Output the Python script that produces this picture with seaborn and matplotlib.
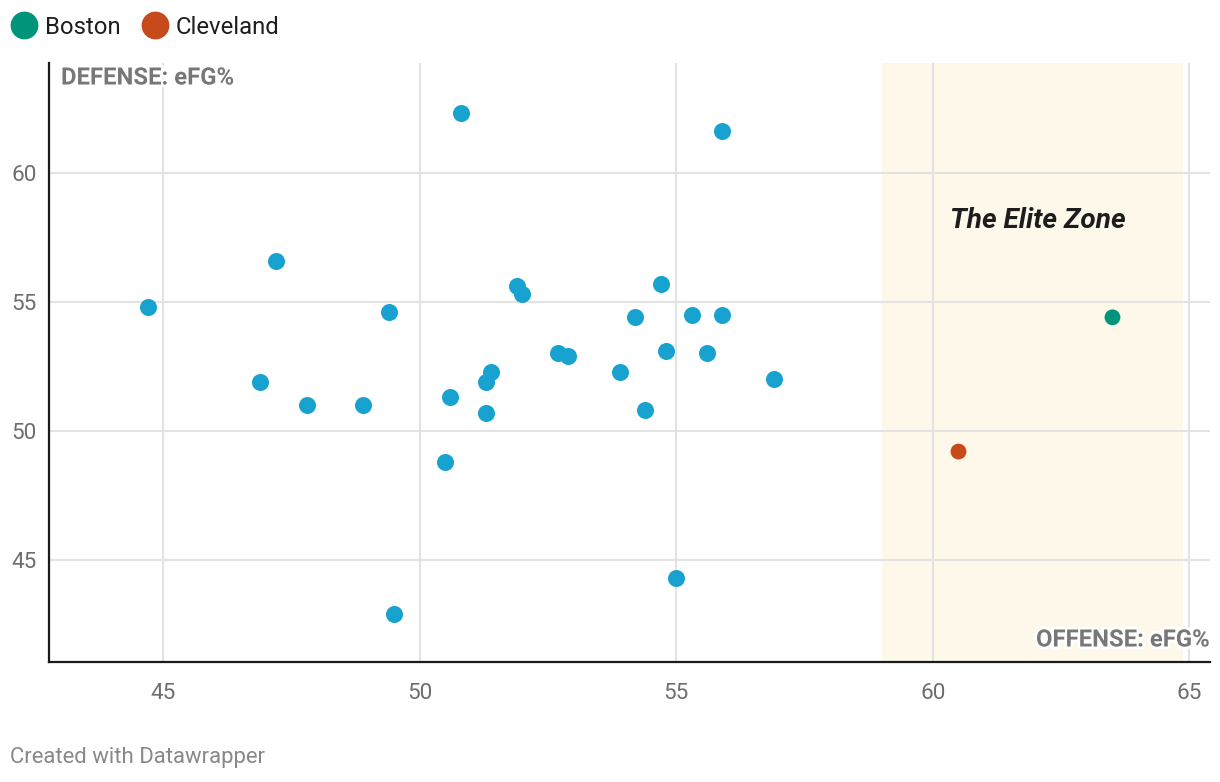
import numpy as np
import pandas as pd
import seaborn as sns
import matplotlib.pyplot as plt
from matplotlib.lines import Line2D
import matplotlib.patheffects as pe

sns.set_theme(style="white")
plt.rcParams['font.family'] = ['Roboto', 'DejaVu Sans']

# other teams: offense eFG% vs defense eFG%
other_off = [44.7, 46.9, 47.2, 47.8, 48.9, 49.4, 49.5, 50.5, 50.6, 50.8,
             51.3, 51.3, 51.4, 51.9, 52.0, 52.7, 52.9, 53.9, 54.2, 54.4,
             54.7, 54.8, 55.0, 55.3, 55.6, 55.9, 55.9, 56.9]
other_def = [54.8, 51.9, 56.6, 51.0, 51.0, 54.6, 42.9, 48.8, 51.3, 62.3,
             51.9, 50.7, 52.3, 55.6, 55.3, 53.0, 52.9, 52.3, 54.4, 50.8,
             55.7, 53.1, 44.3, 54.5, 53.0, 61.6, 54.5, 52.0]

teams = ["Boston", "Cleveland"]
team_off = [63.5, 60.5]
team_def = [54.4, 49.2]
team_colors = {"Boston": "#00947a", "Cleveland": "#c74a1a"}

others = pd.DataFrame({"offense": other_off, "defense": other_def})
highlight = pd.DataFrame({"team": teams, "offense": team_off, "defense": team_def})

fig = plt.figure(figsize=(12.2, 7.82), dpi=100)
ax = fig.add_axes([49 / 1220, 1 - 662 / 782, (1210 - 49) / 1220, (662 - 63) / 782])

ax.axvspan(59.0, 64.88, color="#fef8ea", zorder=0.2, lw=0)

sns.scatterplot(data=others, x="offense", y="defense", color="#18a2cf",
                s=150, linewidth=0, ax=ax, zorder=3)
sns.scatterplot(data=highlight, x="offense", y="defense", hue="team",
                palette=team_colors, s=130, linewidth=0, ax=ax, zorder=3,
                legend=False)

ax.set_xlim(42.78, 65.4)
ax.set_ylim(41.05, 64.25)
ax.set_xticks([45, 50, 55, 60, 65])
ax.set_yticks([45, 50, 55, 60])
ax.set_axisbelow(True)
ax.grid(True, color="#e3e3e3", lw=1.5)
ax.set_xlabel("")
ax.set_ylabel("")
ax.tick_params(axis="both", length=0, labelsize=16.2, labelcolor="#6e6e6e")
ax.tick_params(axis="x", pad=15)
ax.tick_params(axis="y", pad=9)
for side in ["top", "right"]:
    ax.spines[side].set_visible(False)
for side in ["left", "bottom"]:
    ax.spines[side].set_color("#1a1a1a")
    ax.spines[side].set_linewidth(1.6)

halo = [pe.withStroke(linewidth=4, foreground="white")]
ax.text(12 / 1161, 1 - 15 / 599, "DEFENSE: eFG%", transform=ax.transAxes,
        ha="left", va="center", fontsize=17.2, fontweight="bold",
        color="#777777", path_effects=halo, zorder=5)
ax.text(1.0, 1 - 577 / 599, "OFFENSE: eFG%", transform=ax.transAxes,
        ha="right", va="center", fontsize=17.2, fontweight="bold",
        color="#777777", path_effects=halo, zorder=5)
ax.text(62.04, 58.15, "The Elite Zone", ha="center", va="center",
        fontsize=20.2, fontweight="bold", fontstyle="italic", color="#1d1d1d",
        zorder=5)

handles = [Line2D([], [], marker="o", ls="", markersize=20, markeredgewidth=0,
                  color=team_colors[t]) for t in teams]
fig.legend(handles, teams, loc="center left",
           bbox_to_anchor=(10 / 1220, 1 - 27 / 782), bbox_transform=fig.transFigure,
           ncol=2, frameon=False, fontsize=17.2, handlelength=1.2,
           handletextpad=0.25, columnspacing=0.85, borderpad=0, borderaxespad=0,
           labelcolor="#1d1d1d")

fig.text(10 / 1220, 1 - 757 / 782, "Created with Datawrapper", ha="left",
         va="center", fontsize=15.9, color="#888888")

fig.savefig("out.png", dpi=100)
